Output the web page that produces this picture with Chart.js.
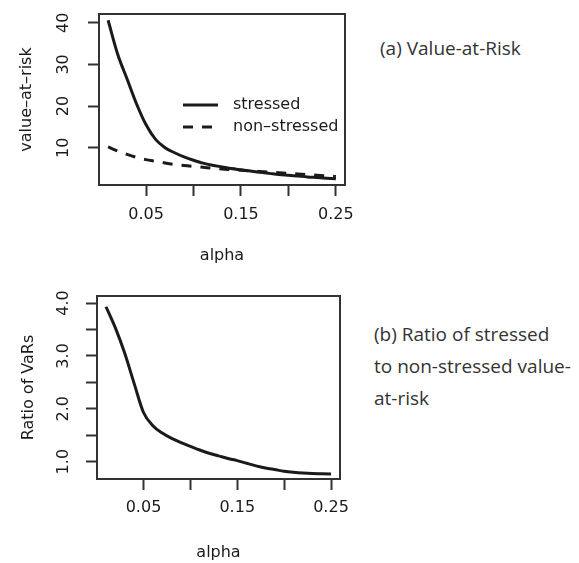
<!DOCTYPE html>
<html>
<head>
<meta charset="utf-8">
<script src="https://cdn.jsdelivr.net/npm/chart.js@4/dist/chart.umd.min.js"></script>
<style>
  body { margin: 0; background: #fff; width: 579px; height: 563px; position: relative; overflow: hidden; }
  canvas { position: absolute; left: 0; }
  .note { position: absolute; font-family: "Open Sans", sans-serif; font-size: 19px; line-height: 32px; color: #333; white-space: nowrap; }
</style>
</head>
<body>
<canvas id="varChart" width="356" height="280" style="top:0"></canvas>
<canvas id="ratioChart" width="356" height="283" style="top:280px"></canvas>
<div class="note" style="left:380px;top:32px">(a) Value-at-Risk</div>
<div class="note" style="left:374px;top:318px">(b) Ratio of stressed<br>to non-stressed value-<br>at-risk</div>
<script>
"use strict";
const INK = "#1a1a1a";
const FRAME = "#333";

// data
const alpha = [0.01, 0.02, 0.03, 0.04, 0.05, 0.06, 0.07, 0.08, 0.09, 0.1, 0.11, 0.12, 0.13,
  0.14, 0.15, 0.16, 0.17, 0.18, 0.19, 0.2, 0.21, 0.22, 0.23, 0.24, 0.25];
const stressed = [40.6, 32.5, 26.5, 20.5, 15.5, 12.0, 10.0, 8.8, 7.8, 7.0, 6.3, 5.8, 5.4,
  5.0, 4.7, 4.4, 4.1, 3.85, 3.6, 3.4, 3.2, 3.0, 2.85, 2.7, 2.55];
const nonStressed = [10.2, 9.2, 8.4, 7.7, 7.15, 6.75, 6.35, 6.0, 5.75, 5.5, 5.3, 5.1, 4.9,
  4.75, 4.6, 4.45, 4.3, 4.15, 4.0, 3.85, 3.7, 3.55, 3.4, 3.25, 3.1];
const ratio = [3.93, 3.53, 3.05, 2.48, 1.93, 1.68, 1.54, 1.44, 1.36, 1.29, 1.22, 1.16, 1.11,
  1.06, 1.02, 0.97, 0.92, 0.88, 0.85, 0.82, 0.8, 0.785, 0.775, 0.77, 0.765];

const alphaTicks = [0.05, 0.1, 0.15, 0.2, 0.25];
const alphaLabels = [0.05, 0.15, 0.25];
const varTicks = [10, 20, 30, 40];
const ratioTicks = [1, 1.5, 2, 2.5, 3, 3.5, 4];
const ratioLabels = [1, 2, 3, 4];

Chart.defaults.font.family = "'DejaVu Sans', sans-serif";
Chart.defaults.font.size = 16;
Chart.defaults.color = INK;

function toPoints(ys) {
  return alpha.map((a, i) => ({ x: a, y: ys[i] }));
}

// R style box round the plot region
const framePlugin = {
  id: "frame",
  afterDraw(chart) {
    const { ctx, chartArea: a } = chart;
    ctx.save();
    ctx.strokeStyle = FRAME;
    ctx.lineWidth = 2;
    ctx.strokeRect(a.left, a.top, a.right - a.left, a.bottom - a.top);
    ctx.restore();
  },
};

// legend without a box, inside the plot
const lineLegend = {
  id: "lineLegend",
  afterDraw(chart, args, opts) {
    const { ctx } = chart;
    ctx.save();
    chart.data.datasets.forEach((ds, i) => {
      const y = opts.y + i * opts.rowHeight;
      ctx.strokeStyle = ds.borderColor;
      ctx.lineWidth = ds.borderWidth;
      ctx.setLineDash(ds.borderDash || []);
      ctx.beginPath();
      ctx.moveTo(opts.x, y);
      ctx.lineTo(opts.x + opts.lineLen, y);
      ctx.stroke();
      ctx.setLineDash([]);
      ctx.fillStyle = INK;
      ctx.font = "16px 'DejaVu Sans'";
      ctx.textBaseline = "middle";
      ctx.fillText(ds.label, opts.x + opts.lineLen + opts.gap, y);
    });
    ctx.restore();
  },
};

function makeChart(id, cfg) {
  return new Chart(document.getElementById(id), {
    type: "line",
    data: { datasets: cfg.datasets },
    plugins: cfg.plugins,
    options: {
      responsive: false,
      animation: false,
      layout: { padding: cfg.padding },
      elements: { point: { radius: 0 }, line: { cubicInterpolationMode: "monotone" } },
      plugins: {
        legend: { display: false },
        tooltip: { enabled: false },
        lineLegend: cfg.legend || {},
      },
      scales: {
        x: {
          type: "linear",
          min: 0.0004,
          max: 0.2596,
          afterBuildTicks: (s) => { s.ticks = alphaTicks.map((v) => ({ value: v })); },
          afterFit: (s) => { s.height = cfg.xHeight; s.paddingLeft = 0; s.paddingRight = 0; },
          grid: { drawOnChartArea: false, tickLength: 11, tickWidth: 2, tickColor: FRAME },
          border: { display: false },
          ticks: {
            padding: cfg.xTickPad,
            maxRotation: 0,
            autoSkip: false,
            callback: (v) => (alphaLabels.includes(v) ? v.toFixed(2) : ""),
          },
          title: { display: true, text: "alpha", padding: { top: 0, bottom: cfg.xTitlePad } },
        },
        y: {
          min: cfg.yMin,
          max: cfg.yMax,
          afterBuildTicks: (s) => { s.ticks = cfg.yTicks.map((v) => ({ value: v })); },
          afterFit: (s) => { s.width = cfg.yWidth; s.paddingTop = 0; s.paddingBottom = 0; },
          grid: { drawOnChartArea: false, tickLength: 11, tickWidth: 2, tickColor: FRAME },
          border: { display: false },
          ticks: {
            padding: cfg.yTickPad,
            minRotation: 90,
            maxRotation: 90,
            crossAlign: "center",
            autoSkip: false,
            callback: cfg.yLabel,
          },
          title: { display: true, text: cfg.yTitle, padding: { top: cfg.yTitlePad, bottom: 0 } },
        },
      },
    },
  });
}

makeChart("varChart", {
  datasets: [
    { label: "stressed", data: toPoints(stressed), borderColor: INK, borderWidth: 3, order: 1 },
    { label: "non\u2013stressed", data: toPoints(nonStressed), borderColor: INK, borderWidth: 3,
      borderDash: [10, 9], order: 0 },
  ],
  plugins: [framePlugin, lineLegend],
  legend: { x: 183, y: 105, rowHeight: 22, lineLen: 35, gap: 15 },
  padding: { left: 0, top: 14, right: 11, bottom: 0 },
  xHeight: 95,
  xTickPad: 9,
  xTitlePad: 15,
  yMin: 1.06,
  yMax: 42.1,
  yTicks: varTicks,
  yLabel: (v) => String(v),
  yWidth: 99,
  yTickPad: 14,
  yTitle: "value\u2013at\u2013risk",
  yTitlePad: 17,
});

makeChart("ratioChart", {
  datasets: [
    { label: "ratio", data: toPoints(ratio), borderColor: INK, borderWidth: 3 },
  ],
  plugins: [framePlugin],
  padding: { left: 0, top: 16, right: 16, bottom: 0 },
  xHeight: 84,
  xTickPad: 8,
  xTitlePad: 1,
  yMin: 0.672,
  yMax: 4.133,
  yTicks: ratioTicks,
  yLabel: (v) => (ratioLabels.includes(v) ? v.toFixed(1) : ""),
  yWidth: 97,
  yTickPad: 9,
  yTitle: "Ratio of VaRs",
  yTitlePad: 19,
});
</script>
</body>
</html>
